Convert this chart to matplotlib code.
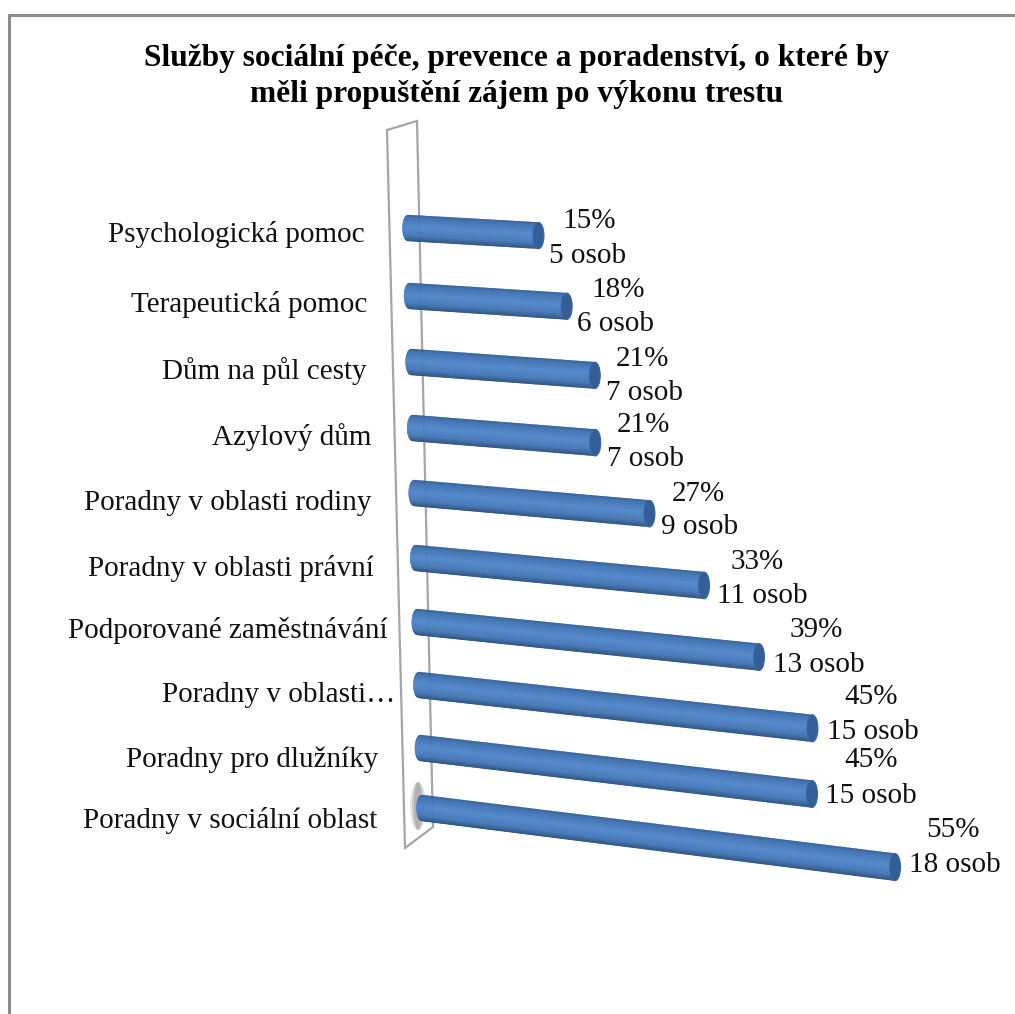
import numpy as np
import matplotlib
matplotlib.use("Agg")
import matplotlib.pyplot as plt
from matplotlib.patches import Polygon, Ellipse
from matplotlib.collections import PolyCollection
from matplotlib.colors import LinearSegmentedColormap

categories = ["Psychologická pomoc", "Terapeutická pomoc", "Dům na půl cesty", "Azylový dům",
              "Poradny v oblasti rodiny", "Poradny v oblasti právní", "Podporované zaměstnávání",
              "Poradny v oblasti…", "Poradny pro dlužníky", "Poradny v sociální oblast"]
percent = [15, 18, 21, 21, 27, 33, 39, 45, 45, 55]
persons = [5, 6, 7, 7, 9, 11, 13, 15, 15, 18]
title = "Služby sociální péče, prevence a poradenství, o které by\nměli propuštění zájem po výkonu trestu"

# layout of the perspective view, in pixels
base_x = np.linspace(408, 422, 10)
base_y = [228, 296, 362, 428, 493, 558, 622, 685, 748, 808]
end_shift = [1, 1, 1, 0, 0, 1, 3, 4, 2, 0]
label_right = [365, 367, 367, 371, 372, 374, 388, 395, 378, 377]
label_y = [235, 305, 371, 437, 503, 569, 631, 695, 760, 820]
pct_gap = [19, 20, 17, 17, 18, 22, 26, 27, 28, 27]
osob_gap = [6, 6, 7, 7, 7, 8, 9, 10, 9, 9]
pct_base = [228, 297, 366, 432, 501, 569, 637, 704, 767, 837]
osob_base = [263, 331, 400, 466, 534, 603, 672, 739, 803, 872]

def length(v):
    return v * (9.15 - 0.008 * v) - 6

def slope(i):
    return 0.058 + 0.067 * i / 9

plt.rcParams['font.family'] = ['Liberation Serif', 'DejaVu Serif']
fig = plt.figure(figsize=(10.15, 10.14), dpi=100)
ax = fig.add_axes([0, 0, 1, 1])
ax.set_xlim(0, 1015); ax.set_ylim(1014, 0); ax.axis('off')

# outer frame
ax.plot([9, 9, 1015], [1014, 15, 15], color='#8c8c8c', lw=2.2, solid_capstyle='butt')

# wall
ax.add_patch(Polygon([(387, 130), (417, 121), (433, 827), (405, 848)], closed=True,
                     fc='white', ec='#a6a6a6', lw=1.6, zorder=1))
# soft shadow on the wall
for w, a in zip([16, 12, 8], [0.18, 0.22, 0.28]):
    ax.add_patch(Ellipse((418, 806), w, 48, fc='#707070', ec='none', alpha=a, zorder=1.5))

cmap = LinearSegmentedColormap.from_list("cyl", [(0, "#2f5b93"), (0.12, "#3f72b2"), (0.45, "#4f87cb"),
                                                 (0.78, "#4478b8"), (1, "#2c5282")])
N = 40
edges = np.linspace(-1, 1, N + 1)

for i, (v, p, cat) in enumerate(zip(percent, persons, categories)):
    x0, y0 = base_x[i], base_y[i]
    L = length(v) + end_shift[i]
    x1, y1 = x0 + L, y0 + L * slope(i)
    r0 = 13
    r1 = 13 + 0.6 * L / 480
    a = 5.5
    polys, cols = [], []
    for k in range(N):
        t0, t1 = edges[k], edges[k + 1]
        polys.append([
            (x0 - a * np.sqrt(1 - t0**2), y0 + r0 * t0),
            (x1, y1 + r1 * t0),
            (x1, y1 + r1 * t1),
            (x0 - a * np.sqrt(1 - t1**2), y0 + r0 * t1),
        ])
        cols.append(cmap((k + 0.5) / N))
    ax.add_collection(PolyCollection(polys, facecolors=cols, edgecolors=cols, linewidths=0.3, zorder=2))
    ax.add_patch(Ellipse((x1, y1), 2 * a, 2 * r1, fc='#335f96', ec='#3a68a3', lw=0.8, zorder=3))

    right = x1 + a
    ax.text(label_right[i], label_y[i], cat, ha='right', va='center', fontsize=21, color='#111111')
    ax.text(right + pct_gap[i] - 1, pct_base[i], f"{v}%", ha='left', va='baseline', fontsize=21, color='#111111')
    ax.text(right + osob_gap[i] - 1, osob_base[i], f"{p} osob", ha='left', va='baseline', fontsize=21, color='#111111')

ax.text(517, 76.5, title, ha='center', va='center', fontsize=22.6, fontweight='bold',
        color='black', linespacing=1.35)
fig.savefig("out.png", dpi=100)
